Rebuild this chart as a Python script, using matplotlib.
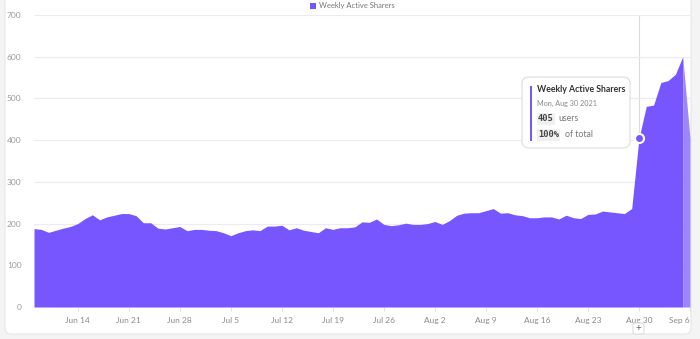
import numpy as np
import pandas as pd
import matplotlib
matplotlib.use('Agg')
import matplotlib.pyplot as plt
import matplotlib.dates as mdates
from matplotlib.patches import FancyBboxPatch, Rectangle
from matplotlib.transforms import IdentityTransform

plt.rcParams['font.family'] = ['Lato', 'DejaVu Sans']

# daily values, Jun 8 - Sep 6 2021 (last day is partial)
dates = pd.date_range('2021-06-08', '2021-09-06', freq='D')
sharers = [188, 186, 179, 184, 189, 193, 200, 212, 221, 209,
           216, 220, 224, 224, 219, 202, 202, 189, 187, 190,
           193, 183, 186, 186, 184, 183, 178, 171, 178, 183,
           185, 183, 194, 194, 196, 185, 190, 184, 181, 178,
           190, 186, 190, 190, 192, 204, 203, 211, 198, 195,
           197, 201, 198, 198, 200, 205, 198, 207, 220, 225,
           226, 226, 231, 236, 225, 226, 221, 219, 214, 214,
           216, 216, 211, 220, 214, 212, 222, 223, 230, 228,
           226, 224, 236, 405, 481, 484, 538, 543, 558, 600, 405]
series_name = 'Weekly Active Sharers'
y_ticks = [0, 100, 200, 300, 400, 500, 600, 700]
hover_date = pd.Timestamp('2021-08-30')
hover_users = 405
hover_share = '100%'

purple = '#7856ff'
light_purple = '#9c85ff'

W, H = 700, 339
fig = plt.figure(figsize=(W / 100, H / 100), dpi=100)
fig.patch.set_facecolor('#f4f4f5')

# white card behind the chart
card = FancyBboxPatch((5, 5), 686, 360, boxstyle='round,pad=0,rounding_size=6',
                      transform=IdentityTransform(), facecolor='white',
                      edgecolor='#e6e6e8', linewidth=0.8, zorder=0)
fig.add_artist(card)

ax = fig.add_axes([34 / W, 1 - 307 / H, (690 - 34) / W, (307 - 15) / H])
ax.set_facecolor('none')

ax.fill_between(dates[:-1], sharers[:-1], 0, color=purple, lw=0, zorder=2)
ax.fill_between(dates[-2:], sharers[-2:], 0, color=light_purple, lw=0, zorder=2)

ax.set_xlim(dates[0], dates[-1])
ax.set_ylim(0, 700)
ax.set_yticks(y_ticks)
ax.grid(axis='y', color='#ececee', lw=0.8, zorder=0)
for s in ax.spines.values():
    s.set_visible(False)
ax.tick_params(axis='y', length=0, labelsize=6, labelcolor='#9a9a9a', pad=9)

xt = pd.date_range('2021-06-14', '2021-09-06', freq='7D')
ax.set_xticks(xt)
ax.set_xticklabels([f'{d:%b} {d.day}' for d in xt])
ax.tick_params(axis='x', length=3, width=0.6, color='#dddddd',
               labelsize=6, labelcolor='#8a8a8a', pad=4)
last = ax.get_xticklabels()[-1]
last.set_horizontalalignment('right')
last.set_x(last.get_position()[0])

# hover crosshair + point
ax.axvline(hover_date, color='#dcdcdc', lw=0.8, zorder=1)
ax.plot([hover_date], [hover_users], 'o', ms=6.5, mfc=purple, mec='white',
        mew=1.5, zorder=5, clip_on=False)

# legend at top
fig.add_artist(Rectangle((310, H - 9), 6, 6, transform=IdentityTransform(),
                         facecolor=purple, edgecolor='none'))
fig.text(319 / W, 1 - 5.5 / H, series_name, fontsize=5.5, color='#777777',
         va='center', ha='left')

# tooltip
tip = FancyBboxPatch((522, H - 148), 108, 71, boxstyle='round,pad=0,rounding_size=7',
                     transform=IdentityTransform(), facecolor='white',
                     edgecolor='#dedede', linewidth=0.8, zorder=10)
fig.add_artist(tip)
fig.add_artist(Rectangle((530, H - 141), 2, 55, transform=IdentityTransform(),
                         facecolor=purple, edgecolor='none', zorder=11))
fig.text(537 / W, 1 - 90 / H, series_name, fontsize=6.3, color='#333333',
         fontweight='bold', va='center', zorder=12)
fig.text(537 / W, 1 - 103 / H, f'{hover_date:%a}, {hover_date:%b} {hover_date.day} {hover_date.year}',
         fontsize=5.2, color='#888888', va='center', zorder=12)
fig.text(538 / W, 1 - 119 / H, str(hover_users), fontsize=6.3, color='#444444',
         family='DejaVu Sans Mono', fontweight='bold', va='center', zorder=12,
         bbox=dict(boxstyle='square,pad=0.15', fc='#f0f0f0', ec='none'))
fig.text(558 / W, 1 - 119 / H, 'users', fontsize=6.3, color='#777777',
         va='center', zorder=12)
fig.text(538 / W, 1 - 135 / H, hover_share, fontsize=6.3, color='#444444',
         family='DejaVu Sans Mono', fontweight='bold', va='center', zorder=12,
         bbox=dict(boxstyle='square,pad=0.15', fc='#f0f0f0', ec='none'))
fig.text(565 / W, 1 - 135 / H, 'of total', fontsize=6.3, color='#777777',
         va='center', zorder=12)

# small "+" button under the hovered date
fig.add_artist(FancyBboxPatch((633, H - 334), 11, 11, boxstyle='round,pad=0,rounding_size=2',
                              transform=IdentityTransform(), facecolor='white',
                              edgecolor='#dddddd', linewidth=0.8))
fig.text(638.5 / W, 1 - 328.5 / H, '+', fontsize=7, color='#666666',
         ha='center', va='center')

fig.savefig('out.png', dpi=100, facecolor=fig.get_facecolor())
